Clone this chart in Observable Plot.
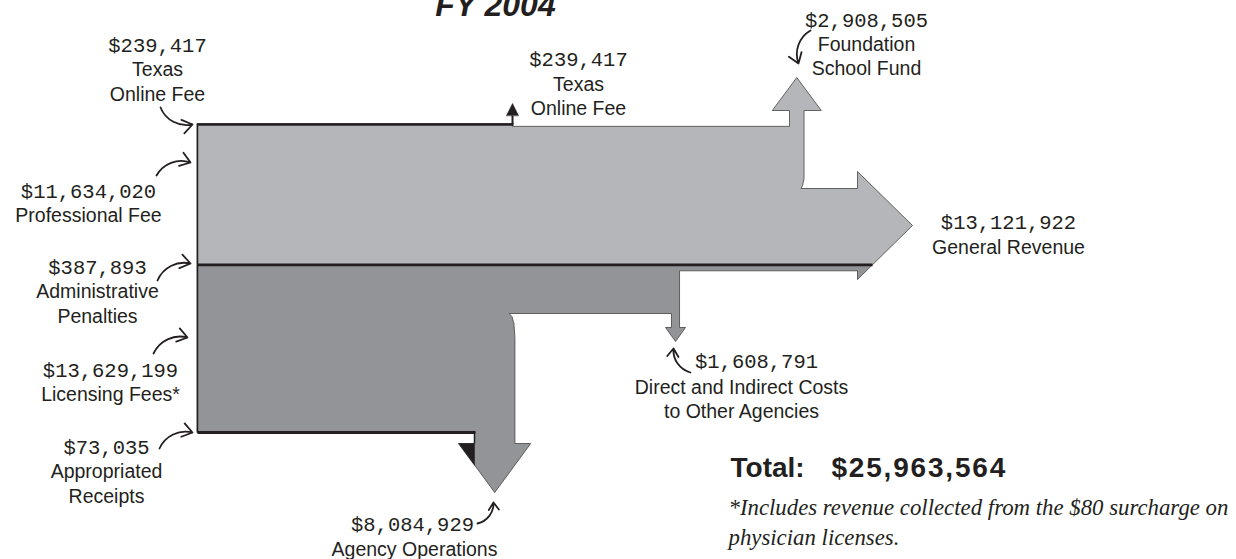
<!DOCTYPE html>
<html>
<head>
<meta charset="utf-8">
<script src="https://cdn.jsdelivr.net/npm/d3@7"></script>
<script src="https://cdn.jsdelivr.net/npm/@observablehq/plot@0.6"></script>
<style>
  html, body { margin: 0; padding: 0; background: #fff; }
  #chart { width: 1236px; height: 559px; overflow: hidden; }
</style>
</head>
<body>
<div id="chart"></div>
<script>
// ---------------- DATA ----------------
const titleText = "FY 2004";
const sourceNames = ["Texas\nOnline Fee", "Professional Fee", "Administrative\nPenalties", "Licensing Fees*", "Appropriated\nReceipts"];
const sourceValues = [239417, 11634020, 387893, 13629199, 73035];
const targetNames = ["Texas\nOnline Fee", "Foundation\nSchool Fund", "General Revenue", "Direct and Indirect Costs\nto Other Agencies", "Agency Operations"];
const targetValues = [239417, 2908505, 13121922, 1608791, 8084929];
const totalLabel = "Total:";
const totalValue = 25963564;
const footnoteLines = ["*Includes revenue collected from the $80 surcharge on", "physician licenses."];

// ---------------- LAYOUT (positions / sizes) ----------------
const W = 1236, H = 559;
const L = {
  X0: 197, YTOP: 123, YBOT: 432,
  branchPxPerDollar: 5e-6,
  xTex: 512, texBase: 115, texTip: 103, texHalf: 6,
  xFS: 789, fsBase: 110, fsTip: 77, fsHalf: 24.5,
  yGR: 188, xGRb: 857, grHeadTop: 171, grHeadBot: 279, xGRtip: 912,
  stripW: 6, yMid: 313,
  xDir: 671, dirBase: 327, dirTip: 341, dirHalf: 10,
  xAg: 474, agBase: 443, agTip: 492, agHalf: 36
};
const lineGap = 24.6;
const srcLabelPos = [{cx: 157, y: 51}, {cx: 88, y: 197}, {cx: 97, y: 273}, {cx: 110, y: 376}, {cx: 106, y: 453}];
const tgtLabelPos = [
  {cx: 578, y: 65, nameCx: 578, nameY: 90},
  {cx: 866, y: 26, nameCx: 866, nameY: 50},
  {cx: 1008, y: 228, nameCx: 1008, nameY: 253},
  {cx: 756, y: 367, nameCx: 741, nameY: 393},
  {cx: 412, y: 530, nameCx: 414, nameY: 555}
];
const annotArrows = [
  {x1: 160, y1: 107, x2: 192, y2: 124, dir: 1},
  {x1: 156, y1: 175, x2: 190, y2: 162, dir: -1},
  {x1: 157, y1: 280, x2: 190, y2: 263, dir: -1},
  {x1: 153, y1: 353, x2: 187, y2: 337, dir: -1},
  {x1: 159, y1: 448, x2: 192, y2: 432, dir: -1},
  {x1: 477, y1: 523, x2: 493, y2: 502, dir: 1},
  {x1: 690, y1: 372, x2: 673, y2: 348, dir: -1},
  {x1: 810, y1: 30, x2: 798, y2: 63, dir: 1}
];
const LIGHT = "#b5b6b9", DARK = "#939498", INK = "#231f20";
const SANS = "Liberation Sans, Arial, sans-serif";
const MONO = "Liberation Mono, DejaVu Sans Mono, monospace";

// ---------------- GEOMETRY derived from values ----------------
const k = (L.YBOT - L.YTOP) / totalValue;
const kOut = L.branchPxPerDollar;
const cum = d3.cumsum(sourceValues);
const B = L.YTOP + cum[1] * k;              // light / dark boundary
const tTex = targetValues[0] * k;
const wF = targetValues[1] * kOut;
const wD = targetValues[3] * kOut;
const wA = targetValues[4] * kOut;
const fsC = L.xFS + wF / 2, dirC = L.xDir + wD / 2, agC = L.xAg + wA / 2;
const grTipY = (L.grHeadTop + L.grHeadBot) / 2;
const slopeLow = (L.xGRtip - L.xGRb) / (L.grHeadBot - grTipY);
const xAtB = L.xGRtip - (B - grTipY) * slopeLow;
const P = (arr) => arr.map(([x, y]) => ({x, y}));

const lightPts = P([
  [L.X0, L.YTOP], [L.xTex, L.YTOP], [L.xTex, L.YTOP + tTex], [L.xFS, L.YTOP + tTex],
  [L.xFS, L.fsBase], [fsC - L.fsHalf, L.fsBase], [fsC, L.fsTip], [fsC + L.fsHalf, L.fsBase],
  [L.xFS + wF, L.fsBase], [L.xFS + wF, L.yGR - 10], [L.xFS + wF - 1.5, L.yGR - 3], [L.xFS + wF - 3, L.yGR],
  [L.xGRb, L.yGR], [L.xGRb, L.grHeadTop], [L.xGRtip, grTipY], [xAtB, B], [L.X0, B]
]);
const darkPts = P([
  [L.X0, B], [xAtB, B], [L.xGRb, L.grHeadBot], [L.xGRb, B + L.stripW],
  [L.xDir + wD, B + L.stripW], [L.xDir + wD, L.dirBase], [dirC + L.dirHalf, L.dirBase], [dirC, L.dirTip],
  [dirC - L.dirHalf, L.dirBase], [L.xDir, L.dirBase], [L.xDir, L.yMid],
  [L.xAg + wA - 6, L.yMid], [L.xAg + wA - 3, L.yMid + 3], [L.xAg + wA - 1, L.yMid + 10], [L.xAg + wA, L.yMid + 24],
  [L.xAg + wA, L.agBase], [agC + L.agHalf, L.agBase], [agC, L.agTip], [agC - L.agHalf, L.agBase],
  [L.xAg, L.agBase], [L.xAg, L.YBOT], [L.X0, L.YBOT]
]);
const agLeft = agC - L.agHalf;
const shadowPts = P([[agLeft, L.agBase], [L.xAg, L.agBase], [L.xAg, L.agBase + (L.xAg - agLeft) * (L.agTip - L.agBase) / L.agHalf]]);
const texHeadPts = P([[L.xTex - L.texHalf, L.texBase], [L.xTex, L.texTip], [L.xTex + L.texHalf, L.texBase]]);

const blackLines = [
  {x1: L.X0, y1: L.YTOP + 1, x2: L.xTex + 1, y2: L.YTOP + 1, w: 2.6},
  {x1: L.xTex, y1: L.YTOP + 1, x2: L.xTex, y2: L.texBase, w: 2},
  {x1: L.X0, y1: B, x2: xAtB, y2: B, w: 2.8},
  {x1: L.X0, y1: L.YBOT, x2: L.xAg + 1, y2: L.YBOT, w: 2.8},
  {x1: L.xAg, y1: L.YBOT, x2: L.xAg, y2: L.agBase, w: 1.5},
  {x1: L.X0, y1: L.YTOP, x2: L.X0, y2: L.YBOT, w: 1.5}
];

// ---------------- TEXT ----------------
const fmt = d3.format("$,");
const valueTexts = [], nameTexts = [];
sourceNames.forEach((name, i) => {
  const p = srcLabelPos[i];
  valueTexts.push({x: p.cx, y: p.y, text: fmt(sourceValues[i])});
  name.split("\n").forEach((ln, j) => nameTexts.push({x: p.cx, y: p.y + lineGap * (j + 1), text: ln}));
});
targetNames.forEach((name, i) => {
  const p = tgtLabelPos[i];
  valueTexts.push({x: p.cx, y: p.y, text: fmt(targetValues[i])});
  name.split("\n").forEach((ln, j) => nameTexts.push({x: p.nameCx, y: p.nameY + lineGap * j, text: ln}));
});

const arrowOpts = {x1: "x1", y1: "y1", x2: "x2", y2: "y2", stroke: INK, strokeWidth: 1.8, headLength: 10, headAngle: 70};

const chart = Plot.plot({
  width: W, height: H, margin: 0,
  x: {domain: [0, W], range: [0, W], axis: null},
  y: {domain: [0, H], range: [0, H], axis: null},
  style: {background: "#fff", overflow: "hidden"},
  marks: [
    Plot.line(lightPts, {x: "x", y: "y", fill: LIGHT, stroke: "#444", strokeWidth: 0.8, curve: "linear-closed"}),
    Plot.line(darkPts, {x: "x", y: "y", fill: DARK, stroke: "#444", strokeWidth: 0.8, curve: "linear-closed"}),
    Plot.line(shadowPts, {x: "x", y: "y", fill: INK, stroke: INK, strokeWidth: 0.5, curve: "linear-closed"}),
    Plot.line(texHeadPts, {x: "x", y: "y", fill: INK, stroke: INK, strokeWidth: 0.5, curve: "linear-closed"}),
    Plot.link(blackLines, {x1: "x1", y1: "y1", x2: "x2", y2: "y2", stroke: INK, strokeWidth: d => d.w}),
    Plot.arrow(annotArrows.filter(d => d.dir > 0), {...arrowOpts, bend: -40}),
    Plot.arrow(annotArrows.filter(d => d.dir < 0), {...arrowOpts, bend: 40}),
    Plot.text(valueTexts, {x: "x", y: "y", text: "text", fontFamily: MONO, fontSize: 20.5, fill: INK, lineAnchor: "bottom", textAnchor: "middle"}),
    Plot.text(nameTexts, {x: "x", y: "y", text: "text", fontFamily: SANS, fontSize: 19.5, fill: INK, lineAnchor: "bottom", textAnchor: "middle"}),
    Plot.text([titleText], {x: () => 495, y: () => 15.5, text: d => d, fontFamily: SANS, fontSize: 32, fontWeight: "bold", fontStyle: "italic", fill: INK, lineAnchor: "bottom", textAnchor: "middle"}),
    Plot.text([totalLabel], {x: () => 730, y: () => 476, text: d => d, fontFamily: SANS, fontSize: 28, fontWeight: "bold", fill: INK, lineAnchor: "bottom", textAnchor: "start"}),
    Plot.text([totalValue], {x: () => 831, y: () => 476, text: d => fmt(d), fontFamily: SANS, fontSize: 28, fontWeight: "bold", fill: INK, lineAnchor: "bottom", textAnchor: "start"}),
    Plot.text(footnoteLines, {x: () => 728, y: (d, i) => 514 + i * 30, text: d => d, fontFamily: "Liberation Serif, serif", fontSize: 22.8, fontStyle: "italic", fill: INK, lineAnchor: "bottom", textAnchor: "start"})
  ]
});
d3.select(chart).selectAll("text").filter(function() { return this.textContent === fmt(totalValue); }).attr("letter-spacing", 1.8);
document.getElementById("chart").appendChild(chart);
</script>
</body>
</html>
